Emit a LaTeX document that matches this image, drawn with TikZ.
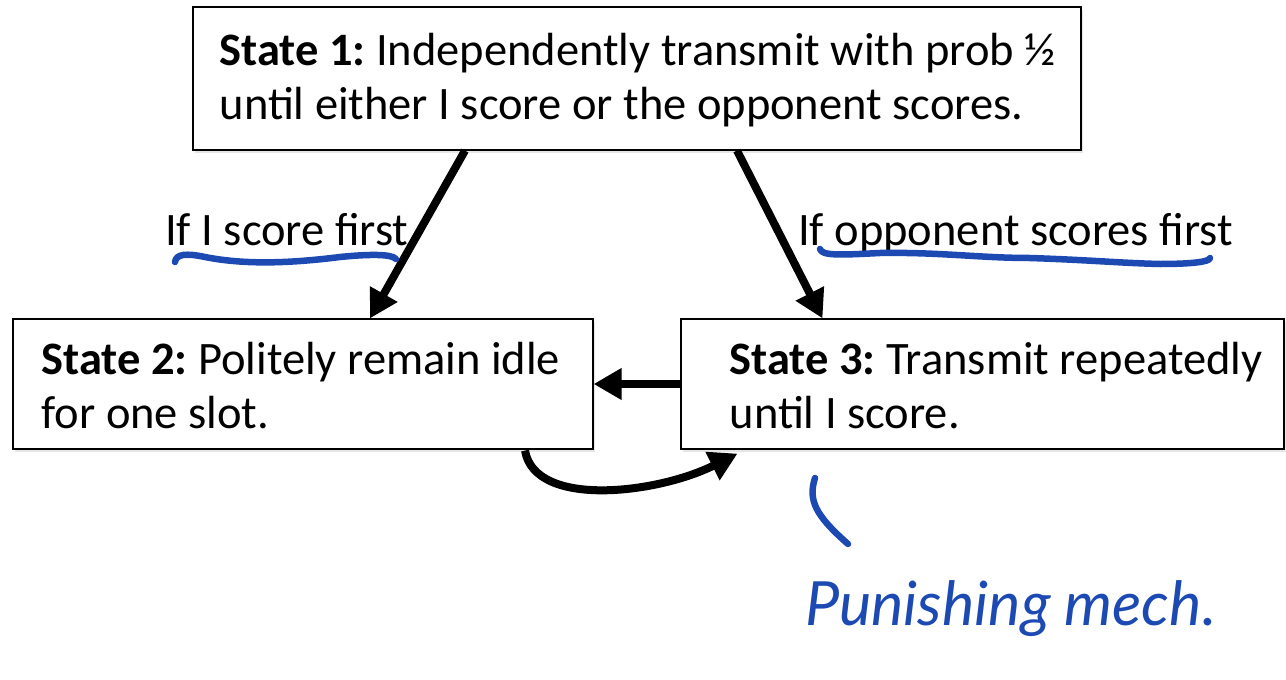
\documentclass[tikz,border=0pt]{standalone}
\usepackage{fontspec}
\setmainfont{Carlito}
\newfontfamily\handfont{Lato}
\usepackage{tikz}
\usetikzlibrary{arrows.meta, positioning, calc, shadows}
\definecolor{penblue}{RGB}{28, 74, 178}
\frenchspacing

\tikzset{
  statebox/.style={draw=black, line width=1.2pt, fill=white, rectangle,
    drop shadow={shadow xshift=2pt, shadow yshift=-3pt, opacity=0.2}},
  statetext/.style={anchor=west, align=left, inner sep=0pt,
    font=\fontsize{46.5}{54}\selectfont},
  edgelabel/.style={anchor=base west, inner sep=0pt,
    font=\fontsize{46.5}{54}\selectfont},
  trans/.style={-{Triangle[length=28pt, width=30pt]}, line width=8pt},
  ink/.style={penblue, line width=6.5pt, line cap=round, line join=round}
}

\begin{document}
\begin{tikzpicture}[x=1pt, y=-1pt]
  \useasboundingbox (0,0) rectangle (1286,680);

  % boxes
  \node[statebox, minimum width=888pt, minimum height=143pt] (s1) at (637,78.5) {};
  \node[statebox, minimum width=580pt, minimum height=130pt] (s2) at (303,384) {};
  \node[statebox, minimum width=603pt, minimum height=130pt] (s3) at (982.5,384) {};

  % box texts
  \node[statetext] (t1) at ([xshift=27pt, yshift=-2pt]s1.west)
    {\textbf{State 1:} Independently transmit with prob ½\\until either I score or the opponent scores.};
  \node[statetext] (t2) at ([xshift=29pt, yshift=-2pt]s2.west)
    {\textbf{State 2:} Politely remain idle\\for one slot.};
  \node[statetext] (t3) at ([xshift=49pt, yshift=-2pt]s3.west)
    {\textbf{State 3:} Transmit repeatedly\\until I score.};

  % transitions
  \draw[trans] ([xshift=-172pt]s1.south) -- ([xshift=67pt]s2.north);
  \draw[trans] ([xshift=100pt]s1.south) -- ([xshift=-160pt]s3.north);
  \draw[trans] (s3.west) -- (s2.east);
  \draw[trans] ([xshift=222pt, yshift=-1pt]s2.south)
    .. controls +(10,58) and +(-80,40) .. ([xshift=-245pt, yshift=-4pt]s3.south);

  % labels
  \node[edgelabel] (l1) at (165,245) {If I score first};
  \node[edgelabel] (l2) at (798,245) {If opponent scores first};

  % pen marks
  \draw[ink] (175,262) .. controls (176,254) and (186,253) .. (205,257)
    .. controls (250,266) and (300,262) .. (340,257)
    .. controls (370,254) and (392,254) .. (396,259);
  \draw[ink] (820,249) .. controls (822,256) and (840,255) .. (880,253)
    .. controls (940,252) and (980,258) .. (1030,258)
    .. controls (1090,260) and (1120,263) .. (1160,264)
    .. controls (1190,264) and (1210,262) .. (1210,258);
  \coordinate (b1) at (815,478);
  \coordinate (b2) at (848,544);
  \draw[ink] (b1) .. controls (808,500) and (815,515) .. (b2);
  \node[anchor=base west, inner sep=0pt, text=penblue,
    font=\handfont\itshape\fontsize{61}{63}\selectfont] (pm) at (805,625) {Punishing mech.};
\end{tikzpicture}
\end{document}
